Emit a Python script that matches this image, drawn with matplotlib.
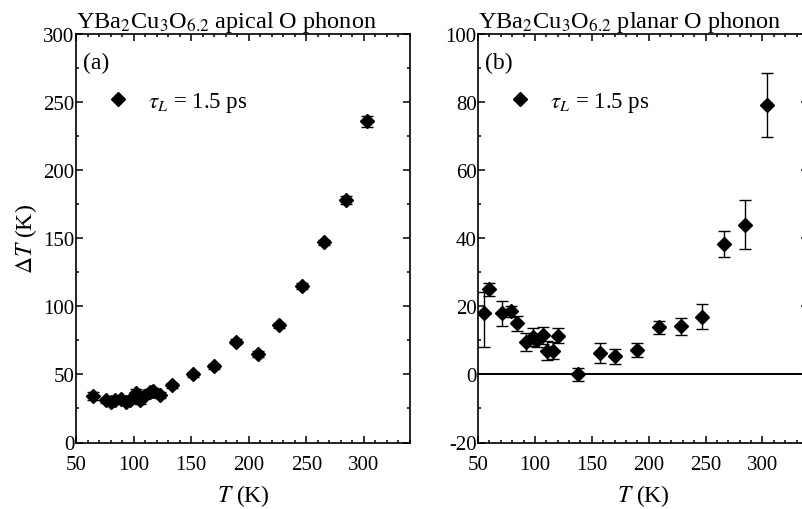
import matplotlib
matplotlib.use('Agg')
import matplotlib.pyplot as plt
from matplotlib.ticker import MultipleLocator
from matplotlib.lines import Line2D

plt.rcParams.update({'font.family': 'Liberation Serif', 'mathtext.fontset': 'stix',
                     'axes.unicode_minus': False, 'font.size': 15})

# panel (a): apical O phonon
T_a = [65, 76, 80, 84, 89, 93, 97, 102, 106, 109, 114, 117, 123, 133, 152,
       170, 189, 208, 226, 246, 265, 284, 303]
dT_a = [34, 31, 30, 31, 32, 30, 31, 36, 31, 34, 37, 38, 35, 42, 50,
        56, 74, 65, 86, 115, 147, 178, 236]
err_a = [3, 2, 2, 2, 2, 2, 2, 3, 3, 2, 2, 2, 2, 2, 2,
         2, 2, 2, 2, 2, 2, 3, 4]

# panel (b): planar O phonon
T_b = [55, 60, 71, 79, 84, 92, 98, 102, 107, 111, 116, 120, 138, 157, 170,
       190, 209, 228, 247, 266, 285, 304]
dT_b = [18, 25, 18, 18.5, 15, 9.5, 11, 10, 11.5, 7, 7, 11.3, 0, 6.3, 5.4,
        7.1, 13.8, 14.1, 17, 38.4, 44, 79]
lo_b = [9.8, 2, 3.7, 1.5, 2.2, 2.7, 2.6, 2, 2.7, 2.7, 2.5, 2.2, 2, 2.8, 2.2,
        2, 2, 2.4, 3.8, 3.8, 7.2, 9.4]
hi_b = [6.2, 2, 3.7, 1.5, 2.2, 2.7, 2.6, 2, 2.5, 2.7, 2.5, 2.2, 2, 2.8, 2.2,
        2, 2, 2.4, 3.8, 3.8, 7.2, 9.4]

fig = plt.figure(figsize=(8.02, 5.10), dpi=100)
ax1 = fig.add_axes([76/802, 66.5/510, 334/802, 408.5/510])
ax2 = fig.add_axes([478/802, 66.5/510, 330/802, 408.5/510])


def style(ax, ymajor, yminor):
    ax.set_xlim(50, 340)
    ax.xaxis.set_major_locator(MultipleLocator(50))
    ax.xaxis.set_minor_locator(MultipleLocator(10))
    ax.yaxis.set_major_locator(MultipleLocator(ymajor))
    ax.yaxis.set_minor_locator(MultipleLocator(yminor))
    ax.tick_params(which='both', direction='in', top=True, right=True, width=1.1)
    ax.tick_params(which='major', length=5, labelsize=15)
    ax.tick_params(axis='y', which='major', pad=1)
    ax.tick_params(axis='x', which='major', pad=9)
    ax.tick_params(which='minor', length=2.5)
    ax.set_xticks([50, 100, 150, 200, 250, 300])
    for s in ax.spines.values():
        s.set_linewidth(1.2)
    ax.set_xlabel(r'$T$ (K)', fontsize=17, labelpad=6)


ax1.errorbar(T_a, dT_a, yerr=err_a, fmt='D', color='k', ms=7, capsize=4.5,
             elinewidth=1, capthick=1)
ax1.set_ylim(0, 300)
style(ax1, 50, 25)
ax1.set_ylabel(r'$\Delta T$ (K)', fontsize=17, labelpad=3)
ax1.set_title(r'YBa$_2$Cu$_3$O$_{6.2}$ apical O phonon', loc='left', fontsize=17.5, pad=1)
ax1.text(0.02, 0.93, '(a)', transform=ax1.transAxes, fontsize=17, va='center')

ax2.axhline(0, color='k', lw=1.4)
ax2.errorbar(T_b, dT_b, yerr=[lo_b, hi_b], fmt='D', color='k', ms=7, capsize=4.5,
             elinewidth=1, capthick=1)
ax2.set_ylim(-20, 100)
style(ax2, 20, 10)
ax2.set_title(r'YBa$_2$Cu$_3$O$_{6.2}$ planar O phonon', loc='left', fontsize=17.5, pad=1)
ax2.text(0.02, 0.93, '(b)', transform=ax2.transAxes, fontsize=17, va='center')

for ax in (ax1, ax2):
    h = Line2D([], [], ls='none', marker='D', color='k', ms=7)
    ax.legend([h], [r'$\tau_L$ = 1.5 ps'], loc='center left', bbox_to_anchor=(0.085, 0.833),
              frameon=False, handlelength=1.2, handletextpad=0.7, borderpad=0,
              borderaxespad=0, fontsize=16.5)

plt.savefig('out.png', dpi=100)
